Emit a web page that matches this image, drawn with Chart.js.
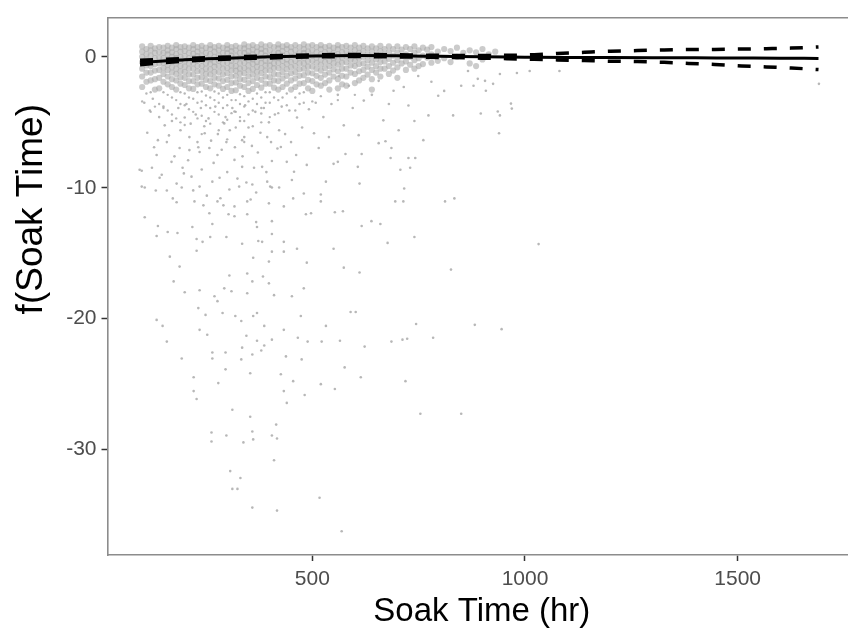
<!DOCTYPE html>
<html>
<head>
<meta charset="utf-8">
<script src="https://cdn.jsdelivr.net/npm/chart.js@4.4.1/dist/chart.umd.min.js"></script>
<style>
  html, body { margin: 0; padding: 0; background: #fff; }
  #wrap { width: 851px; height: 637px; }
</style>
</head>
<body>
<div id="wrap"><canvas id="soak_chart" width="851" height="637"></canvas></div>
<script>
// axis ticks
const xTicks = [500, 1000, 1500];
const yTicks = [0, -10, -20, -30];

// smooth term f(Soak Time) and its confidence band
const fitX = [95, 150, 200, 300, 400, 500, 600, 700, 800, 900, 1000, 1100, 1200, 1300, 1400, 1500, 1600, 1690];
const fitY = [-0.42, -0.32, -0.22, -0.1, 0.0, 0.07, 0.1, 0.08, 0.04, 0.0, -0.02, -0.04, -0.05, -0.06, -0.07, -0.09, -0.1, -0.12];
const bandX = [95, 200, 400, 600, 800, 900, 960, 1022, 1076, 1140, 1201, 1264, 1327, 1385, 1446, 1509, 1567, 1626, 1690];
const bandUpper = [-0.25, -0.12, 0.08, 0.18, 0.12, 0.1, 0.12, 0.17, 0.26, 0.35, 0.43, 0.48, 0.53, 0.56, 0.57, 0.6, 0.63, 0.67, 0.76];
const bandLower = [-0.6, -0.32, -0.08, 0.02, -0.04, -0.1, -0.14, -0.19, -0.23, -0.28, -0.33, -0.36, -0.42, -0.5, -0.58, -0.69, -0.77, -0.85, -0.97];

// dense cloud of partial residuals near zero, by soak-time column
const coreCols = [100, 120, 140, 160, 180, 200, 220, 240, 260, 280, 300, 320, 340, 360, 380, 400, 420, 440, 460, 480,
  500, 520, 540, 560, 580, 600, 620, 640, 660, 680, 700, 720, 740, 760, 780, 810, 840, 870, 900, 930];
const coreVals = [
  [0.8, 0.4, 0.0, -0.4, -0.9, -1.5, -2.3, -3.4],
  [0.85, 0.5, 0.1, -0.3, -0.7, -1.2, -1.8, -2.7, -4.2],
  [0.75, 0.35, -0.05, -0.5, -1.0, -1.6, -2.4, -3.6],
  [0.85, 0.5, 0.2, -0.2, -0.6, -1.0, -1.5, -2.1, -2.9, -4.1],
  [0.9, 0.6, 0.2, -0.1, -0.5, -0.9, -1.3, -1.8, -2.5, -3.3, -4.7],
  [0.8, 0.45, 0.05, -0.35, -0.75, -1.15, -1.6, -2.15, -2.8, -3.7, -5.2],
  [0.9, 0.6, 0.25, -0.1, -0.5, -0.9, -1.35, -1.85, -2.45, -3.2, -4.2],
  [0.85, 0.5, 0.1, -0.3, -0.7, -1.1, -1.55, -2.05, -2.65, -3.4, -4.5, -5.9],
  [0.9, 0.6, 0.2, -0.2, -0.55, -0.95, -1.35, -1.85, -2.4, -3.1, -3.9, -5.1],
  [0.85, 0.5, 0.1, -0.3, -0.7, -1.15, -1.65, -2.2, -2.8, -3.5, -4.4, -5.6],
  [0.9, 0.6, 0.3, -0.1, -0.45, -0.85, -1.25, -1.75, -2.3, -2.9, -3.7, -4.8, -6.3],
  [0.85, 0.5, 0.1, -0.3, -0.7, -1.05, -1.45, -1.95, -2.55, -3.3, -4.2, -5.4],
  [0.95, 0.65, 0.3, -0.05, -0.45, -0.85, -1.25, -1.75, -2.3, -3.0, -3.8, -4.9, -6.5],
  [0.9, 0.55, 0.2, -0.2, -0.55, -0.95, -1.35, -1.85, -2.45, -3.2, -4.1, -5.3],
  [0.95, 0.6, 0.3, -0.1, -0.45, -0.85, -1.25, -1.75, -2.35, -3.1, -3.9, -5.0],
  [0.9, 0.5, 0.1, -0.3, -0.65, -1.05, -1.55, -2.05, -2.7, -3.5, -4.6],
  [0.95, 0.65, 0.3, -0.1, -0.45, -0.85, -1.35, -1.85, -2.5, -3.3, -4.3],
  [0.9, 0.6, 0.2, -0.2, -0.55, -0.95, -1.45, -2.05, -2.8, -3.7],
  [0.9, 0.5, 0.1, -0.3, -0.7, -1.15, -1.65, -2.3, -3.1, -4.1],
  [0.95, 0.6, 0.3, -0.1, -0.5, -0.9, -1.4, -2.0, -2.7, -3.5],
  [0.9, 0.5, 0.1, -0.3, -0.75, -1.25, -1.85, -2.6, -3.4],
  [0.9, 0.6, 0.2, -0.2, -0.6, -1.05, -1.6, -2.2, -3.0],
  [0.85, 0.5, 0.1, -0.3, -0.7, -1.2, -1.8, -2.5],
  [0.9, 0.6, 0.2, -0.2, -0.6, -1.1, -1.7, -2.4, -3.3],
  [0.85, 0.45, 0.05, -0.4, -0.9, -1.5, -2.2],
  [0.9, 0.5, 0.1, -0.3, -0.7, -1.3, -2.0, -2.9],
  [0.85, 0.45, 0.0, -0.5, -1.0, -1.6],
  [0.8, 0.4, 0.0, -0.45, -1.0, -1.7, -2.5],
  [0.85, 0.45, 0.05, -0.4, -0.9, -1.5],
  [0.8, 0.35, -0.15, -0.7, -1.3],
  [0.8, 0.3, -0.25, -0.8, -1.6],
  [0.75, 0.2, -0.35, -1.0],
  [0.8, 0.3, -0.25, -0.9],
  [0.7, 0.1, -0.55],
  [0.75, 0.2, -0.45],
  [0.6, -0.1],
  [0.7, 0.0],
  [0.5, -0.5],
  [0.6, -0.2],
  [0.4]
];
// in-between columns of the same cloud
const coreColsB = [110, 130, 150, 170, 190, 210, 230, 250, 270, 290, 310, 330, 350, 370, 390, 410, 430, 450, 470, 490,
  510, 530, 550, 570, 590, 610, 630, 650, 670, 690, 710, 730, 750, 770, 795, 825, 855, 885, 915];
const coreValsB = [
  [0.6, 0.2, -0.2, -0.65, -1.2, -1.9, -2.8],
  [0.65, 0.3, -0.1, -0.55, -1.05, -1.7, -2.5, -3.8],
  [0.7, 0.3, -0.1, -0.45, -0.85, -1.3, -1.9, -2.7, -3.9],
  [0.7, 0.35, 0.0, -0.4, -0.8, -1.2, -1.7, -2.3, -3.1, -4.4],
  [0.75, 0.4, 0.0, -0.3, -0.7, -1.1, -1.55, -2.05, -2.7, -3.6, -5.0],
  [0.7, 0.3, -0.1, -0.5, -0.9, -1.35, -1.85, -2.4, -3.1, -4.0],
  [0.75, 0.4, 0.05, -0.3, -0.7, -1.1, -1.6, -2.1, -2.7, -3.5, -4.7],
  [0.7, 0.3, -0.1, -0.5, -0.9, -1.3, -1.75, -2.3, -2.95, -3.7, -4.9],
  [0.75, 0.4, 0.0, -0.4, -0.75, -1.15, -1.6, -2.1, -2.65, -3.3, -4.2],
  [0.7, 0.3, -0.1, -0.5, -0.9, -1.35, -1.85, -2.45, -3.1, -3.9, -5.0],
  [0.75, 0.45, 0.1, -0.3, -0.65, -1.05, -1.5, -2.0, -2.6, -3.3, -4.3],
  [0.7, 0.3, -0.1, -0.5, -0.9, -1.25, -1.7, -2.2, -2.85, -3.6, -4.6],
  [0.8, 0.45, 0.1, -0.25, -0.65, -1.05, -1.5, -2.0, -2.6, -3.4, -4.4],
  [0.75, 0.4, 0.0, -0.4, -0.75, -1.15, -1.6, -2.15, -2.8, -3.6],
  [0.8, 0.45, 0.1, -0.3, -0.65, -1.05, -1.5, -2.05, -2.7, -3.5],
  [0.75, 0.3, -0.1, -0.5, -0.85, -1.3, -1.8, -2.35, -3.1],
  [0.8, 0.45, 0.1, -0.3, -0.7, -1.15, -1.65, -2.3, -3.1],
  [0.75, 0.4, 0.0, -0.4, -0.8, -1.25, -1.8, -2.5],
  [0.75, 0.3, -0.1, -0.5, -0.95, -1.45, -2.05, -2.8],
  [0.8, 0.4, 0.05, -0.35, -0.75, -1.2, -1.75, -2.4],
  [0.75, 0.35, -0.05, -0.45, -0.9, -1.45, -2.1],
  [0.75, 0.35, 0.0, -0.4, -0.85, -1.35, -2.0],
  [0.7, 0.3, -0.1, -0.5, -0.95, -1.5],
  [0.75, 0.35, -0.05, -0.45, -0.9, -1.45, -2.1],
  [0.7, 0.25, -0.2, -0.65, -1.2],
  [0.7, 0.3, -0.1, -0.55, -1.1, -1.8],
  [0.65, 0.2, -0.25, -0.75, -1.35],
  [0.65, 0.2, -0.2, -0.7, -1.2],
  [0.6, 0.15, -0.35, -0.9],
  [0.6, 0.1, -0.45, -1.05],
  [0.55, 0.05, -0.5],
  [0.6, 0.0, -0.6],
  [0.5, -0.1, -0.7],
  [0.55, -0.05],
  [0.4, -0.3],
  [0.45, -0.4],
  [0.3],
  [0.35, -0.7],
  [0.2]
];

// scattered partial residuals further from zero: [soak time, f]
const residuals = [
  [94, -8.62], [106, -12.25], [137, -12.92], [134, -13.68], [160, -13.38], [183, -13.45], [165, -15.26], [188, -16.02],
  [174, -17.15], [200, -17.98], [134, -20.09], [148, -20.55], [158, -21.75], [235, -17.83], [232, -19.19], [249, -19.71],
  [235, -20.85], [253, -21.23], [228, -14.81], [242, -14.13], [260, -13.76], [298, -13.76], [305, -16.7], [293, -17.68],
  [310, -17.9], [270, -18.28], [277, -18.66], [289, -19.57], [319, -19.79], [333, -20.17], [347, -18.06], [359, -17.15],
  [384, -16.78], [398, -17.3], [410, -18.2], [370, -19.57], [361, -19.79], [345, -21.3], [370, -21.68], [387, -20.55],
  [405, -21.6], [452, -18.28], [433, -20.85], [473, -19.79], [480, -17.68], [487, -15.72], [464, -14.66], [433, -14.88],
  [405, -14.88], [398, -15.64], [405, -13.53], [433, -14.13], [382, -14.13], [373, -14.06], [370, -13.0], [361, -15.34],
  [347, -16.55], [335, -14.28], [317, -12.17], [347, -12.02], [368, -12.62], [405, -12.55], [485, -12.02], [497, -11.95],
  [550, -14.66], [574, -16.1], [611, -16.47], [590, -19.49], [602, -19.49], [532, -20.55], [466, -21.45], [489, -21.75],
  [522, -21.75], [565, -21.68], [623, -22.13], [686, -21.75], [712, -21.6], [723, -21.53], [744, -20.4], [784, -21.45],
  [826, -16.25], [882, -20.47], [677, -14.21], [740, -13.76], [616, -12.92], [639, -12.55], [660, -12.77], [553, -11.87],
  [572, -11.79], [812, -11.04], [834, -10.81], [695, -11.04], [714, -11.04], [716, -10.06], [611, -9.68], [532, -9.53],
  [520, -11.04], [520, -10.51], [455, -10.81], [433, -11.42], [480, -10.44], [422, -9.98], [401, -9.91], [398, -11.19],
  [347, -11.04], [317, -11.42], [303, -12.02], [291, -11.34], [277, -11.04], [258, -11.95], [265, -12.77], [228, -13.91],
  [218, -13.0], [244, -11.34], [223, -11.04], [172, -10.81], [181, -11.11], [158, -10.21], [132, -10.21], [106, -9.98],
  [99, -9.91], [141, -9.23], [181, -9.68], [193, -9.98], [216, -9.15], [235, -9.91], [265, -9.53], [282, -9.23],
  [305, -10.13], [328, -9.91], [345, -9.6], [359, -9.75], [368, -10.36], [394, -9.53], [405, -9.98],
  [684, -7.72], [707, -8.62], [730, -8.47], [726, -7.72], [742, -7.72], [686, -6.96], [616, -7.42], [578, -7.42],
  [550, -8.17], [560, -8.02], [607, -8.4], [487, -8.25], [462, -7.49], [440, -8.02], [457, -8.77], [426, -6.89],
  [405, -7.95], [382, -8.4], [363, -8.47], [335, -8.4], [317, -7.87], [277, -7.49], [258, -6.96], [235, -7.27],
  [211, -7.12], [188, -6.96], [169, -8.02], [195, -8.47], [134, -7.49], [123, -8.47], [99, -8.7], [137, -6.36],
  [158, -6.51], [230, -6.51], [298, -6.51], [335, -6.36], [403, -6.51], [450, -6.51], [515, -6.96], [539, -6.13],
  [672, -6.44],
  [193, -23.04], [265, -22.58], [265, -23.04], [296, -22.58], [335, -22.21], [359, -22.73], [380, -22.43], [387, -22.05],
  [333, -23.11], [438, -22.88], [475, -23.11], [296, -23.87], [354, -24.17], [426, -24.24], [221, -24.47], [279, -24.92],
  [221, -25.53], [228, -26.13], [455, -24.77], [433, -25.53], [440, -26.43], [482, -25.83], [520, -25.0], [553, -25.37],
  [576, -23.72], [614, -24.47], [719, -24.77], [754, -27.26], [850, -27.26], [312, -26.96], [354, -27.49], [415, -28.09],
  [263, -28.69], [298, -28.92], [359, -28.62], [263, -29.38], [338, -29.45], [361, -29.22], [405, -28.92], [417, -29.15],
  [410, -30.81], [307, -31.64], [331, -32.17], [312, -33.0], [324, -33.0], [517, -33.68], [359, -34.43], [417, -34.66],
  [569, -36.24], [1032, -14.3], [945, -20.8],
  [879, -2.21], [889, -1.68], [906, -1.83], [908, -2.59], [925, -2.06], [896, -4.32], [936, -4.17], [941, -4.47],
  [967, -3.57], [969, -3.95], [939, -5.83], [941, -1.31], [981, -1.23], [1011, -1.08], [1081, -1.08], [1691, -2.06],
  [562, -1.46], [586, -2.21], [621, -3.34], [656, -1.83], [691, -2.59], [726, -3.72], [749, -1.46], [796, -2.97],
  [831, -4.47], [866, -1.08], [574, -5.23], [609, -5.98], [667, -4.85], [703, -5.61], [761, -6.36], [773, -4.47],
  [656, -6.59], [118, -4.1], [153, -5.23], [200, -4.63], [247, -5.83], [293, -5.08], [340, -6.13], [380, -4.32],
  [422, -5.61], [464, -4.63], [504, -5.83], [317, -4.17], [211, -6.13], [394, -6.13],
  [105, -3.5], [112, -5.8], [125, -3.2], [128, -6.9], [140, -4.6], [146, -9.0], [150, -3.8], [163, -6.0], [170, -4.9],
  [176, -7.6], [185, -3.9], [190, -5.6], [198, -8.9], [204, -3.6], [208, -7.9], [214, -5.1], [220, -10.2], [226, -4.4],
  [232, -6.9], [238, -3.9], [240, -8.6], [246, -5.3], [252, -10.6], [256, -4.7], [262, -6.4], [268, -8.1], [272, -3.8],
  [278, -5.9], [284, -10.8], [287, -7.1], [296, -4.6], [300, -8.8], [306, -5.6], [312, -3.9], [318, -6.9], [324, -9.3],
  [330, -4.9], [336, -7.6], [342, -3.7], [350, -5.4], [355, -10.9], [358, -6.8], [366, -4.2], [372, -7.3], [378, -5.8],
  [386, -3.9], [392, -8.8], [398, -5.0], [412, -4.4], [418, -7.0], [428, -3.8], [436, -5.9], [446, -4.1], [452, -9.4],
  [470, -3.6], [476, -5.4], [492, -4.0], [508, -3.5], [526, -4.6], [545, -3.6], [560, -2.9], [595, -3.9], [640, -2.9],
  [680, -3.6], [715, -2.3], [740, -4.9], [780, -1.9], [810, -2.6], [850, -2.2]
];

const frameGrey = '#8c8c8c';
const tickGrey = '#4d4d4d';
const labelFont = 'Liberation Sans';

function columnPoints(cols, vals) {
  const pts = [];
  cols.forEach((x, i) => vals[i].forEach(y => pts.push({ x: x, y: y })));
  return pts;
}

function line(xs, ys) {
  return xs.map((x, i) => ({ x: x, y: ys[i] }));
}

// deeper part of the cloud is thinner, so smaller dots there
const isTail = c => c.raw && c.raw.y < -2.6;

// fix axis box sizes so the panel sits where the reference has it
function fixWidth(w) { return scale => { scale.width = w; }; }
function fixHeight(h) { return scale => { scale.height = h; }; }

const ctx = document.getElementById('soak_chart').getContext('2d');
new Chart(ctx, {
  type: 'scatter',
  data: {
    datasets: [
      {
        label: 'fit', type: 'line', data: line(fitX, fitY), order: 1,
        borderColor: '#000', borderWidth: 3, pointRadius: 0, cubicInterpolationMode: 'monotone', fill: false
      },
      {
        label: 'upper', type: 'line', data: line(bandX, bandUpper), order: 0,
        borderColor: '#000', borderWidth: 3.5, borderDash: [13, 13], pointRadius: 0, cubicInterpolationMode: 'monotone', fill: false
      },
      {
        label: 'lower', type: 'line', data: line(bandX, bandLower), order: 0,
        borderColor: '#000', borderWidth: 3.5, borderDash: [13, 13], pointRadius: 0, cubicInterpolationMode: 'monotone', fill: false
      },
      {
        label: 'core', data: columnPoints(coreCols, coreVals).concat(columnPoints(coreColsB, coreValsB)), order: 3,
        backgroundColor: c => (isTail(c) ? 'rgba(170,170,170,0.85)' : 'rgba(168,168,168,0.6)'), borderWidth: 0,
        pointRadius: c => (isTail(c) ? 1.2 : 3.1)
      },
      {
        label: 'resid', data: residuals.map(p => ({ x: p[0], y: p[1] })), order: 2,
        backgroundColor: 'rgba(170,170,170,0.85)', borderWidth: 0, pointRadius: 1.3
      }
    ]
  },
  options: {
    responsive: false,
    animation: false,
    devicePixelRatio: 1,
    layout: { padding: { top: 11, right: 0, left: 0, bottom: 0 } },
    plugins: { legend: { display: false }, tooltip: { enabled: false } },
    scales: {
      x: {
        type: 'linear', position: 'bottom', min: 18.5, max: 1757,
        afterBuildTicks: s => { s.ticks = xTicks.map(v => ({ value: v })); },
        afterFit: fixHeight(82),
        border: { display: true, color: frameGrey, width: 1.6 },
        grid: { display: true, drawOnChartArea: false, tickLength: 6, tickColor: '#333', tickWidth: 1.5 },
        ticks: { color: tickGrey, font: { family: labelFont, size: 21 }, padding: 6, maxRotation: 0, callback: v => String(v) },
        title: { display: true, text: ' Soak Time (hr)', color: '#000', font: { family: labelFont, size: 33 }, padding: { top: 0, bottom: 5 } }
      },
      xTop: {
        type: 'linear', position: 'top', min: 18.5, max: 1757,
        afterFit: fixHeight(0),
        border: { display: true, color: frameGrey, width: 1.6 },
        grid: { display: false },
        ticks: { display: false }
      },
      y: {
        type: 'linear', position: 'left', min: -38.05, max: 3.0,
        afterBuildTicks: s => { s.ticks = yTicks.map(v => ({ value: v })); },
        afterFit: fixWidth(107.5),
        border: { display: true, color: frameGrey, width: 1.6 },
        grid: { display: true, drawOnChartArea: false, tickLength: 6, tickColor: '#333', tickWidth: 1.5 },
        ticks: { color: tickGrey, font: { family: labelFont, size: 21 }, padding: 5, callback: v => String(v) },
        title: { display: true, text: '               f(Soak Time)', color: '#000', font: { family: labelFont, size: 37 }, padding: { top: 10, bottom: 0 } }
      }
    }
  }
});
</script>
</body>
</html>
